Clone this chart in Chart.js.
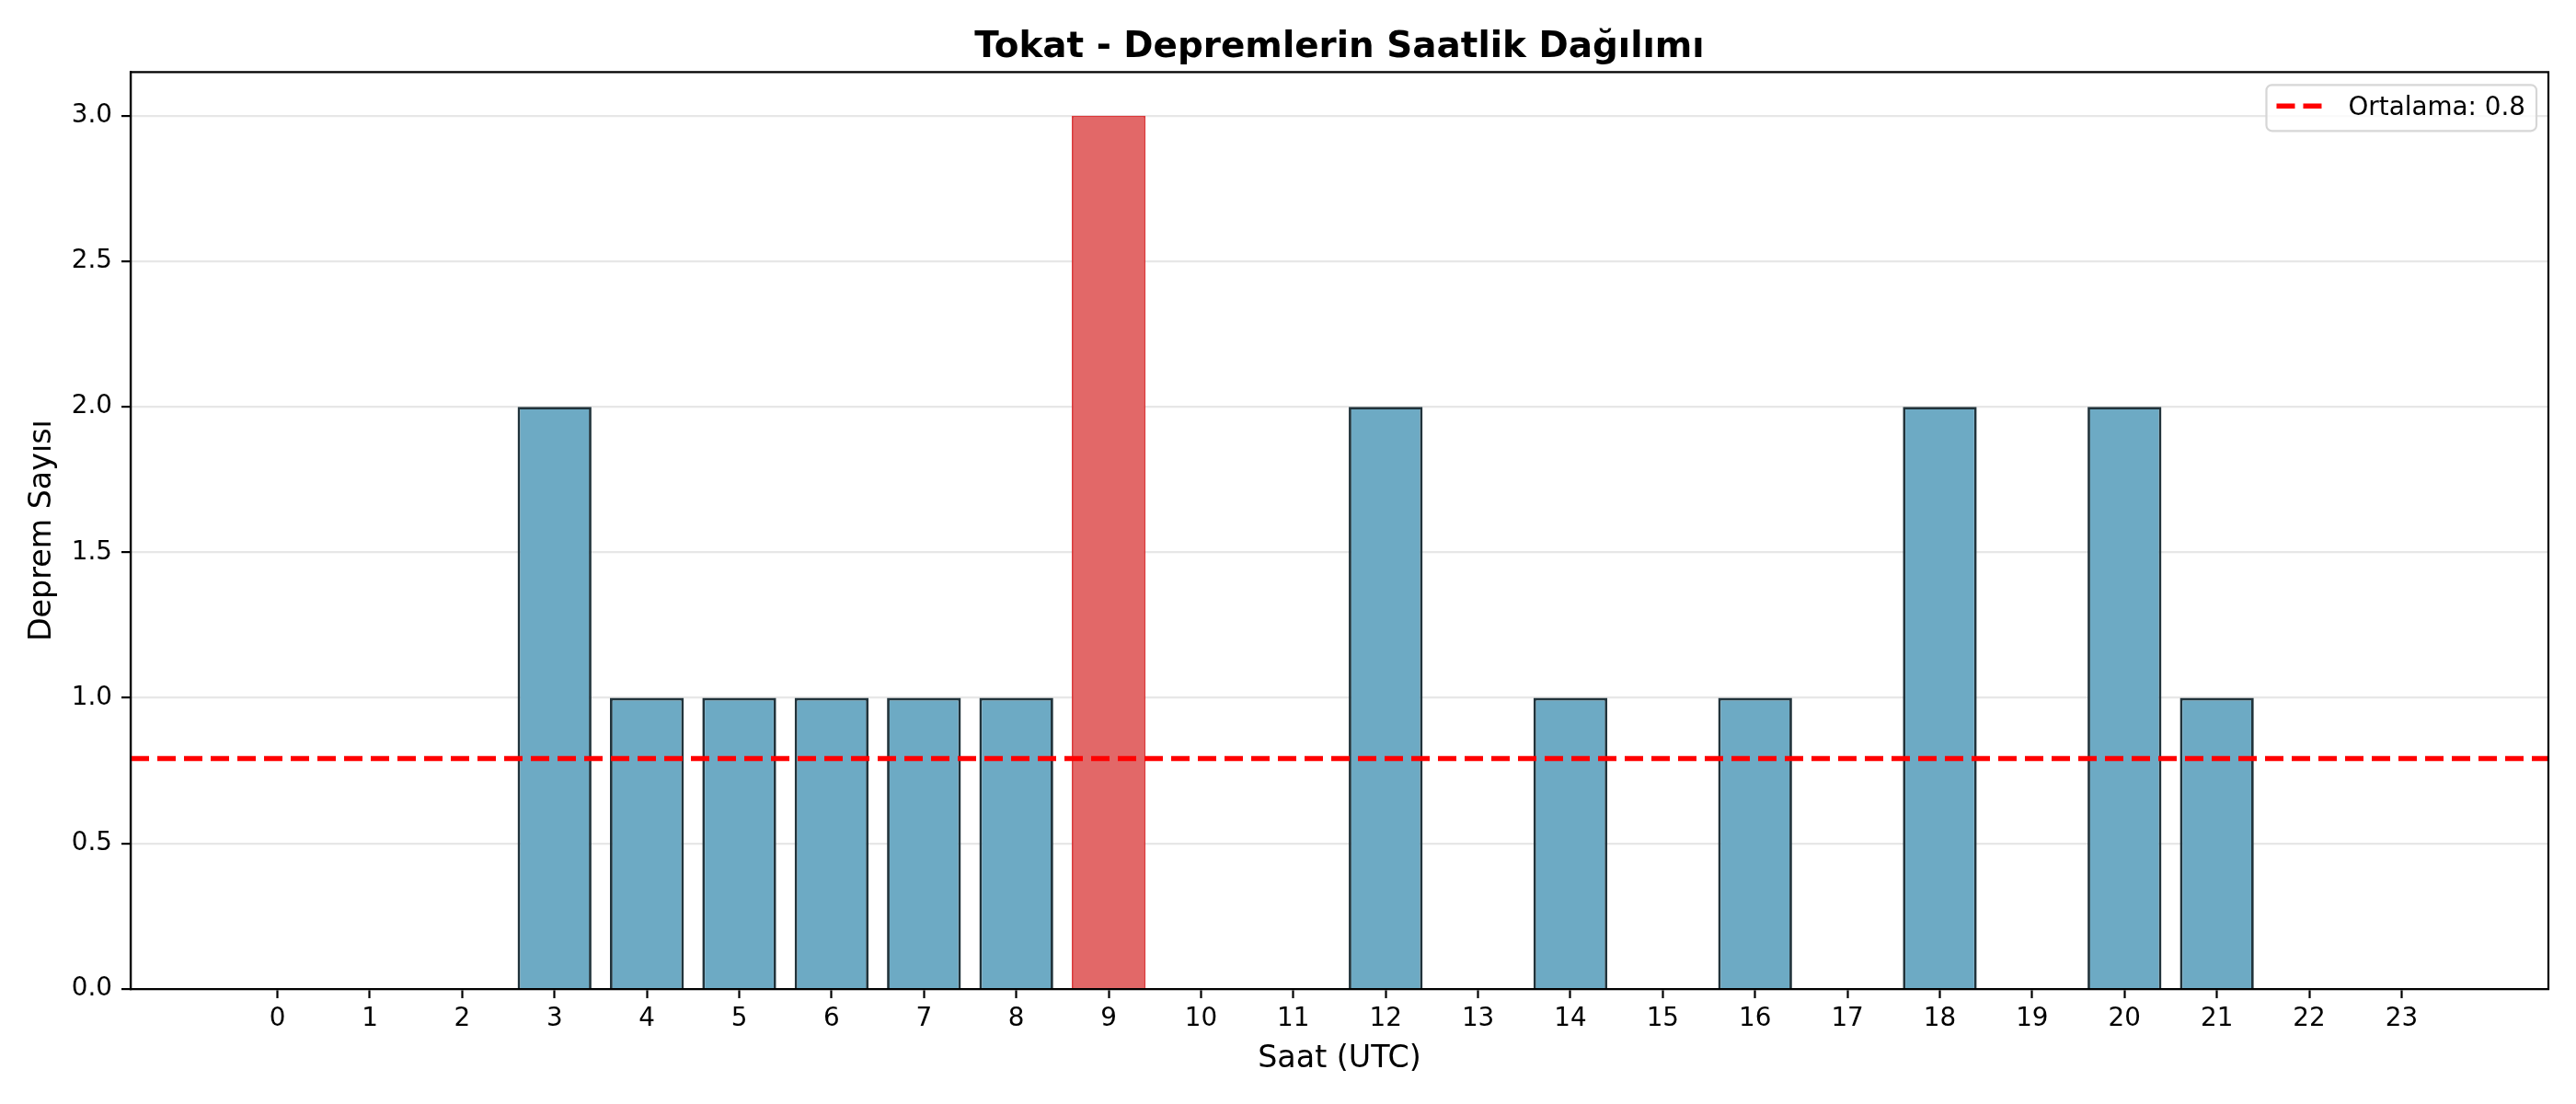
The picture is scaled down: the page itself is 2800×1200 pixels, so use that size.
<!DOCTYPE html>
<html>
<head>
<meta charset="utf-8">
<script src="https://cdn.jsdelivr.net/npm/chart.js@4.4.0/dist/chart.umd.min.js"></script>
<style>
html,body{margin:0;padding:0;background:#fff;}
#wrap{width:2800px;height:1200px;}
</style>
</head>
<body>
<div id="wrap"><canvas id="c" width="2800" height="1200"></canvas></div>
<script>
const hours = [0,1,2,3,4,5,6,7,8,9,10,11,12,13,14,15,16,17,18,19,20,21,22,23];
const counts = [0,0,0,2,1,1,1,1,1,3,0,0,2,0,1,0,1,0,2,0,2,1,0,0];
const yTicks = [0,0.5,1.0,1.5,2.0,2.5,3.0];
const xLimits = [-1.59, 24.59];
const yLimits = [0, 3.15];
const titleText = 'Tokat - Depremlerin Saatlik Dağılımı';
const xLabel = 'Saat (UTC)';
const yLabel = 'Deprem Sayısı';

const meanValue = counts.reduce((a,b)=>a+b,0)/counts.length;
const meanLabel = 'Ortalama: ' + meanValue.toFixed(1);
const maxCount = Math.max(...counts);

const FONT = "'DejaVu Sans', sans-serif";
const blueFill = 'rgb(109,170,196)';
const blueEdge = 'rgb(33,51,59)';
const redFill = 'rgb(226,104,104)';
const redEdge = 'rgb(218,58,59)';

const barData = hours.map((h,i)=>({x:h, y:counts[i]}));
const meanData = xLimits.map(x=>({x:x, y:meanValue}));

const framePlugin = {
  id:'frame',
  afterDatasetsDraw(chart){
    const {ctx, chartArea:a} = chart;
    ctx.save();
    ctx.strokeStyle = '#000';
    ctx.lineWidth = 2.2;
    ctx.beginPath();
    ctx.moveTo(a.left, a.bottom);
    ctx.lineTo(a.left, a.top);
    ctx.lineTo(a.right, a.top);
    ctx.lineTo(a.right, a.bottom);
    ctx.lineTo(a.left, a.bottom);
    ctx.stroke();
    ctx.restore();
  },
  afterDraw(chart){
    const {ctx, chartArea:a} = chart;
    // title centred over the plot area
    ctx.save();
    ctx.font = "bold 38.9px " + FONT;
    ctx.fillStyle = '#000';
    ctx.textAlign = 'center';
    ctx.textBaseline = 'alphabetic';
    ctx.fillText(titleText, (a.left + a.right)/2, a.top - 16);
    ctx.restore();

    const ds = chart.data.datasets[0];
    ctx.save();
    ctx.font = "27.8px " + FONT;
    const tw = ctx.measureText(ds.label).width;
    const right = a.right - 13;
    const top = a.top + 14;
    const h = 50;
    const w = 11 + 50 + 28 + tw + 12;
    const left = right - w;
    const r = 6;
    ctx.beginPath();
    ctx.moveTo(left+r, top);
    ctx.lineTo(right-r, top);
    ctx.arcTo(right, top, right, top+r, r);
    ctx.lineTo(right, top+h-r);
    ctx.arcTo(right, top+h, right-r, top+h, r);
    ctx.lineTo(left+r, top+h);
    ctx.arcTo(left, top+h, left, top+h-r, r);
    ctx.lineTo(left, top+r);
    ctx.arcTo(left, top, left+r, top, r);
    ctx.closePath();
    ctx.fillStyle = 'rgba(255,255,255,0.8)';
    ctx.fill();
    ctx.strokeStyle = 'rgb(214,214,214)';
    ctx.lineWidth = 2.2;
    ctx.stroke();
    const ly = top + h/2 - 2;
    ctx.strokeStyle = ds.borderColor;
    ctx.lineWidth = ds.borderWidth;
    ctx.setLineDash(ds.borderDash);
    ctx.beginPath();
    ctx.moveTo(left+11, ly);
    ctx.lineTo(left+61, ly);
    ctx.stroke();
    ctx.setLineDash([]);
    ctx.fillStyle = '#000';
    ctx.textBaseline = 'alphabetic';
    ctx.textAlign = 'left';
    ctx.fillText(ds.label, left+89, top+33);
    ctx.restore();
  }
};

new Chart(document.getElementById('c'), {
  type:'bar',
  data:{
    datasets:[
      {
        type:'line',
        label: meanLabel,
        data: meanData,
        borderColor:'#ff0000',
        borderWidth:5.5,
        borderDash:[20,9],
        pointRadius:0,
        fill:false,
        order:0
      },
      {
        type:'bar',
        label:'counts',
        data: barData,
        backgroundColor: counts.map(v=> v===maxCount ? redFill : blueFill),
        borderColor: counts.map(v=> v===maxCount ? redEdge : blueEdge),
        borderWidth: counts.map(v=> v===maxCount ? 2 : 2.8),
        borderSkipped:'start',
        barPercentage:0.8,
        categoryPercentage:1.0,
        order:1
      }
    ]
  },
  options:{
    responsive:false,
    animation:false,
    devicePixelRatio:1,
    layout:{padding:{left:0,right:30,top:78.3,bottom:0}},
    plugins:{
      legend:{display:false},
      tooltip:{enabled:false},
      title:{display:false}
    },
    scales:{
      x:{
        type:'linear',
        min:xLimits[0],
        max:xLimits[1],
        offset:false,
        afterBuildTicks(s){ s.ticks = hours.map(v=>({value:v})); },
        afterFit(s){ s.height = 125; },
        ticks:{
          color:'#000',
          font:{family:FONT, size:27.8},
          padding:6,
          maxRotation:0,
          autoSkip:false,
          callback:(v)=>String(v)
        },
        grid:{
          display:true,
          offset:false,
          drawOnChartArea:false,
          drawTicks:true,
          tickLength:10,
          tickWidth:2.2,
          tickColor:'#000'
        },
        border:{display:true, color:'#000', width:2.2},
        title:{
          display:true,
          text:xLabel,
          color:'#000',
          font:{family:FONT, size:33.3, lineHeight:1.2},
          padding:{top:0, bottom:29}
        }
      },
      y:{
        type:'linear',
        min:yLimits[0],
        max:yLimits[1],
        afterBuildTicks(s){ s.ticks = yTicks.map(v=>({value:v})); },
        afterFit(s){ s.width = 142; },
        ticks:{
          color:'#000',
          font:{family:FONT, size:27.8},
          padding:10,
          callback:(v)=>Number(v).toFixed(1)
        },
        grid:{
          display:true,
          color:'rgb(231,231,231)',
          lineWidth:2.2,
          drawTicks:true,
          tickLength:10,
          tickWidth:2.2,
          tickColor:'#000'
        },
        border:{display:true, color:'#000', width:2.2},
        title:{
          display:true,
          text:yLabel,
          color:'#000',
          font:{family:FONT, size:33.3, lineHeight:1.2},
          padding:{top:26, bottom:0}
        }
      }
    }
  },
  plugins:[framePlugin]
});
</script>
</body>
</html>
